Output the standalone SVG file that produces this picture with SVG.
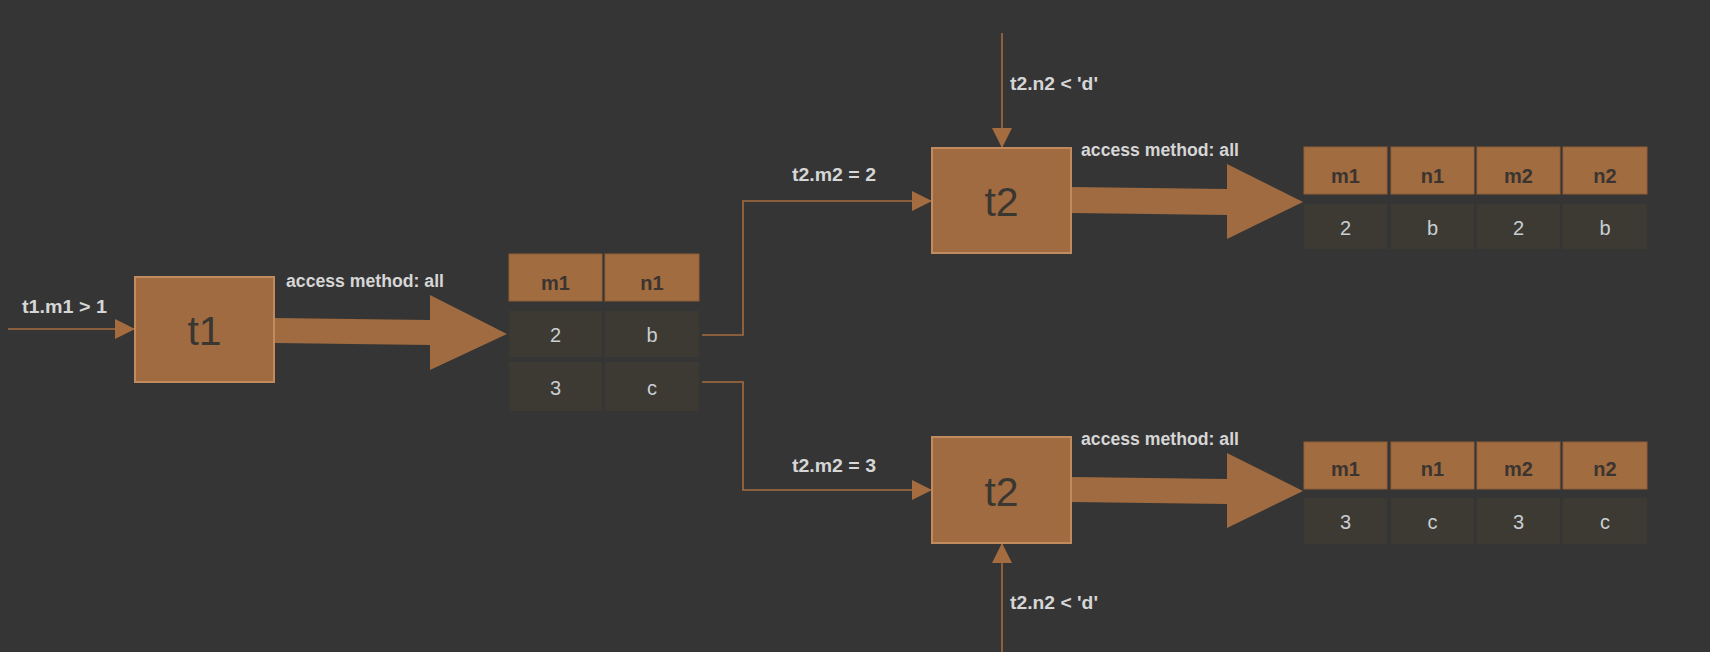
<svg xmlns="http://www.w3.org/2000/svg" width="1710" height="652" viewBox="0 0 1710 652">
<defs>
<marker id="ah" markerUnits="userSpaceOnUse" markerWidth="20" markerHeight="20" viewBox="0 0 18 18" refX="18" refY="9" orient="auto">
<path d="M0,0 L18,9 L0,18 Z" fill="#a56c40"/>
</marker>
<style>
.bg{fill:#353535}
.node{fill:#a06b40;stroke:#c28b5e;stroke-width:2}
.nt{font-family:"Liberation Sans",Arial,sans-serif;font-size:41px;fill:#3a3632;text-anchor:middle}
.hd{fill:#a26c41;stroke:#8e5e38;stroke-width:1}
.dt{fill:#3d3a34}
.ht{font-family:"Liberation Sans",Arial,sans-serif;font-size:20px;font-weight:bold;fill:#3a3530;text-anchor:middle}
.vt{font-family:"Liberation Sans",Arial,sans-serif;font-size:20px;fill:#c9ced3;text-anchor:middle}
.lbl{font-family:"Liberation Sans",Arial,sans-serif;font-size:18px;font-weight:bold;fill:#d6d6d6}
.conn{fill:none;stroke:#a56c40;stroke-width:1.6}
.big{fill:#a06b40}
</style>
</defs>
<rect class="bg" x="0" y="0" width="1710" height="652"/>

<g id="connectors">
<path class="conn" d="M8,329 L135,329" marker-end="url(#ah)"/>
<path class="conn" d="M702,335 L743,335 L743,201 L932,201" marker-end="url(#ah)"/>
<path class="conn" d="M702,382 L743,382 L743,490 L932,490" marker-end="url(#ah)"/>
<path class="conn" d="M1002,33 L1002,148" marker-end="url(#ah)"/>
<path class="conn" d="M1002,652 L1002,543" marker-end="url(#ah)"/>
<polygon class="big" points="274,318 430,320 430,295 507,334 430,370 430,345 274,343"/>
<polygon class="big" points="1071,187 1227,189 1227,164 1303,202 1227,239 1227,215 1071,213"/>
<polygon class="big" points="1071,477 1227,479 1227,453 1303,491 1227,528 1227,504 1071,502"/>
<text class="lbl" x="22" y="313" textLength="85" lengthAdjust="spacingAndGlyphs">t1.m1 &gt; 1</text>
<text class="lbl" x="286" y="287" textLength="158" lengthAdjust="spacingAndGlyphs">access method: all</text>
<text class="lbl" x="1010" y="90" textLength="88" lengthAdjust="spacingAndGlyphs">t2.n2 &lt; 'd'</text>
<text class="lbl" x="1081" y="156" textLength="158" lengthAdjust="spacingAndGlyphs">access method: all</text>
<text class="lbl" x="792" y="181" textLength="84" lengthAdjust="spacingAndGlyphs">t2.m2 = 2</text>
<text class="lbl" x="792" y="472" textLength="84" lengthAdjust="spacingAndGlyphs">t2.m2 = 3</text>
<text class="lbl" x="1081" y="445" textLength="158" lengthAdjust="spacingAndGlyphs">access method: all</text>
<text class="lbl" x="1010" y="609" textLength="88" lengthAdjust="spacingAndGlyphs">t2.n2 &lt; 'd'</text>
</g>

<g id="t1">
<rect class="node" x="135" y="277" width="139" height="105"/>
<text class="nt" x="204.5" y="345">t1</text>
</g>

<g id="t2-top">
<rect class="node" x="932" y="148" width="139" height="105"/>
<text class="nt" x="1001.5" y="216">t2</text>
</g>

<g id="t2-bottom">
<rect class="node" x="932" y="437" width="139" height="106"/>
<text class="nt" x="1001.5" y="506">t2</text>
</g>

<g id="table-t1">
<rect class="hd" x="509" y="254" width="93" height="47"/>
<rect class="hd" x="605" y="254" width="94" height="47"/>
<text class="ht" x="555.5" y="290">m1</text>
<text class="ht" x="652" y="290">n1</text>
<rect class="dt" x="509" y="311" width="93" height="46"/>
<rect class="dt" x="605" y="311" width="94" height="46"/>
<text class="vt" x="555.5" y="342">2</text>
<text class="vt" x="652" y="342">b</text>
<rect class="dt" x="509" y="362" width="93" height="49"/>
<rect class="dt" x="605" y="362" width="94" height="49"/>
<text class="vt" x="555.5" y="395">3</text>
<text class="vt" x="652" y="395">c</text>
</g>

<g id="table-top">
<rect class="hd" x="1304" y="147" width="83" height="47"/>
<rect class="hd" x="1391" y="147" width="83" height="47"/>
<rect class="hd" x="1477" y="147" width="83" height="47"/>
<rect class="hd" x="1563" y="147" width="84" height="47"/>
<text class="ht" x="1345.5" y="183">m1</text>
<text class="ht" x="1432.5" y="183">n1</text>
<text class="ht" x="1518.5" y="183">m2</text>
<text class="ht" x="1605" y="183">n2</text>
<rect class="dt" x="1304" y="204" width="83" height="45"/>
<rect class="dt" x="1391" y="204" width="83" height="45"/>
<rect class="dt" x="1477" y="204" width="83" height="45"/>
<rect class="dt" x="1563" y="204" width="84" height="45"/>
<text class="vt" x="1345.5" y="235">2</text>
<text class="vt" x="1432.5" y="235">b</text>
<text class="vt" x="1518.5" y="235">2</text>
<text class="vt" x="1605" y="235">b</text>
</g>

<g id="table-bottom">
<rect class="hd" x="1304" y="442" width="83" height="47"/>
<rect class="hd" x="1391" y="442" width="83" height="47"/>
<rect class="hd" x="1477" y="442" width="83" height="47"/>
<rect class="hd" x="1563" y="442" width="84" height="47"/>
<text class="ht" x="1345.5" y="476">m1</text>
<text class="ht" x="1432.5" y="476">n1</text>
<text class="ht" x="1518.5" y="476">m2</text>
<text class="ht" x="1605" y="476">n2</text>
<rect class="dt" x="1304" y="498" width="83" height="46"/>
<rect class="dt" x="1391" y="498" width="83" height="46"/>
<rect class="dt" x="1477" y="498" width="83" height="46"/>
<rect class="dt" x="1563" y="498" width="84" height="46"/>
<text class="vt" x="1345.5" y="529">3</text>
<text class="vt" x="1432.5" y="529">c</text>
<text class="vt" x="1518.5" y="529">3</text>
<text class="vt" x="1605" y="529">c</text>
</g>
</svg>
